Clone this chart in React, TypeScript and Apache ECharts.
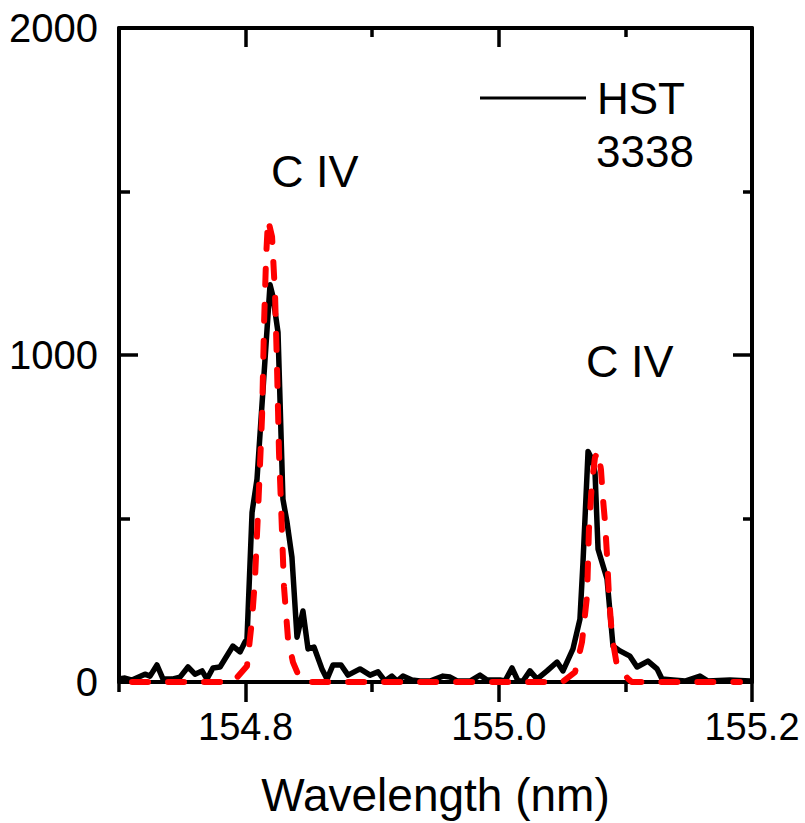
import React, { useEffect, useRef } from "react";
import * as echarts from "echarts";

// Measured spectrum (HST 3338)
const wavelength = [
  154.7, 154.7047, 154.7103, 154.7205, 154.7245, 154.73, 154.7348, 154.7419, 154.7482, 154.7545,
  154.76, 154.7656, 154.7695, 154.7742, 154.7798, 154.79, 154.7956, 154.7995, 154.8011, 154.8051,
  154.809, 154.8193, 154.8216, 154.8256, 154.8295, 154.8327, 154.8366, 154.8406, 154.8453, 154.8493,
  154.854, 154.8603, 154.8643, 154.869, 154.8754, 154.8809, 154.8904, 154.8983, 154.9046, 154.9101,
  154.9156, 154.9196, 154.9243, 154.9314, 154.9378, 154.9457, 154.9559, 154.9615, 154.967, 154.9773,
  154.9852, 154.9907, 155.0009, 155.0049, 155.0104, 155.0152, 155.0191, 155.0246, 155.0302, 155.0381,
  155.046, 155.0507, 155.0586, 155.0641, 155.0665, 155.0689, 155.0705, 155.0736, 155.076, 155.0784,
  155.0855, 155.0902, 155.0957, 155.1036, 155.1092, 155.1178, 155.125, 155.1289, 155.1376, 155.1471,
  155.1589, 155.1652, 155.1826, 155.1984,
];
const intensity = [
  9, 12, 6, 24, 18, 52, 9, 9, 15, 46,
  24, 34, 9, 43, 46, 110, 92, 122, 131, 519,
  620, 1215, 1179, 1069, 559, 489, 382, 137, 217, 101,
  107, 40, 9, 52, 52, 21, 40, 21, 31, 3,
  18, 3, 18, 6, 3, 3, 18, 15, 3, 3,
  21, 6, 6, 3, 43, 3, 3, 34, 9, 34,
  61, 34, 101, 192, 366, 568, 705, 681, 641, 406,
  315, 110, 95, 79, 46, 64, 40, 9, 6, 3,
  18, 3, 6, 3,
];

// Fitted profile (red dashed)
const fitWavelength = [
  154.7103, 154.79, 154.8011, 154.8051, 154.8074, 154.8098, 154.813, 154.8146, 154.8162, 154.8177,
  154.8209, 154.8233, 154.8248, 154.8264, 154.828, 154.8303, 154.8335, 154.8374, 154.843, 154.85,
  155.0502, 155.0602, 155.0657, 155.0697, 155.0712, 155.0736, 155.076, 155.0784, 155.0807, 155.0823,
  155.0839, 155.0855, 155.087, 155.0894, 155.0934, 155.1021, 155.105, 155.1905,
];
const fitIntensity = [
  0, 0, 49, 192, 315, 519, 812, 1100, 1300, 1414,
  1362, 1180, 965, 700, 540, 293, 131, 61, 9, 0,
  0, 30, 122, 263, 467, 611, 687, 705, 650, 560,
  489, 385, 263, 140, 49, 10, 0, 0,
];

const xLabelValues = [154.8, 155.0, 155.2];
const xMinorValues = [154.7, 154.9, 155.1];
const annotations = ["C IV", "C IV"];
const seriesName = "HST";
const legendSecondLine = "3338";

const FONT = "'Liberation Sans', Arial, sans-serif";

export default function App() {
  const ref = useRef<HTMLDivElement>(null);
  useEffect(() => {
    if (!ref.current) return;
    const chart = echarts.init(ref.current, null, { renderer: "svg" });
    const axisLine = { show: true, lineStyle: { color: "#000", width: 4 } };
    const baseX = { type: "value", min: 154.7, max: 155.2, interval: 0.1, splitLine: { show: false }, gridIndex: 0 };
    const baseY = { type: "value", min: 0, max: 2000, interval: 1000, splitLine: { show: false } };
    chart.setOption({
      animation: false,
      backgroundColor: "#fff",
      textStyle: { fontFamily: FONT },
      grid: { left: 119, top: 28, width: 633, height: 655, containLabel: false },
      legend: {
        show: true,
        data: [{ name: seriesName, icon: "rect" }],
        orient: "vertical",
        left: 475,
        top: 71,
        itemWidth: 106,
        itemHeight: 3,
        itemGap: 0,
        itemStyle: { color: "#000", borderWidth: 0 },
        textStyle: { fontSize: 44, color: "#000", fontFamily: FONT, padding: [0, 0, 0, 6] },
        selectedMode: false,
      },
      xAxis: [
        {
          ...baseX,
          position: "bottom",
          axisLine,
          axisTick: { show: true, inside: false, length: 20, customValues: xLabelValues, lineStyle: { color: "#000", width: 3.5 } },
          axisLabel: {
            show: true,
            customValues: xLabelValues,
            formatter: (v: number) => v.toFixed(1),
            fontSize: 38,
            color: "#000",
            margin: 26,
            fontFamily: FONT,
          },
          name: "Wavelength (nm)",
          nameLocation: "middle",
          nameGap: 90,
          nameTextStyle: { fontSize: 46, color: "#000", fontFamily: FONT },
        },
        {
          ...baseX,
          position: "bottom",
          axisLine: { show: false },
          axisTick: { show: true, inside: false, length: 10, customValues: xMinorValues, lineStyle: { color: "#000", width: 3.5 } },
          axisLabel: { show: false },
        },
        {
          ...baseX,
          position: "top",
          axisLine,
          axisTick: { show: true, inside: true, length: 19, customValues: xLabelValues, lineStyle: { color: "#000", width: 3.5 } },
          axisLabel: { show: false },
        },
        {
          ...baseX,
          position: "top",
          axisLine: { show: false },
          axisTick: { show: true, inside: true, length: 9, customValues: xMinorValues, lineStyle: { color: "#000", width: 3.5 } },
          axisLabel: { show: false },
        },
      ],
      yAxis: [
        {
          ...baseY,
          position: "left",
          axisLine,
          axisTick: { show: true, inside: true, length: 19, lineStyle: { color: "#000", width: 3.5 } },
          minorTick: { show: true, splitNumber: 2, length: 11, lineStyle: { color: "#000", width: 3.5 } },
          axisLabel: {
            show: true,
            fontSize: 40,
            color: "#000",
            margin: 21,
            fontFamily: FONT,
            formatter: (v: number) => String(v),
          },
        },
        {
          ...baseY,
          position: "right",
          axisLine,
          axisTick: { show: true, inside: true, length: 19, lineStyle: { color: "#000", width: 3.5 } },
          minorTick: { show: true, splitNumber: 2, length: 9, lineStyle: { color: "#000", width: 3.5 } },
          axisLabel: { show: false },
        },
      ],
      graphic: [
        {
          type: "text",
          x: 271,
          y: 171,
          style: { text: annotations[0], fontSize: 45, fill: "#000", fontFamily: FONT, verticalAlign: "middle", align: "left" },
        },
        {
          type: "text",
          x: 586,
          y: 361,
          style: { text: annotations[1], fontSize: 45, fill: "#000", fontFamily: FONT, verticalAlign: "middle", align: "left" },
        },
        {
          type: "text",
          x: 596,
          y: 151,
          style: { text: legendSecondLine, fontSize: 44, fill: "#000", fontFamily: FONT, verticalAlign: "middle", align: "left" },
        },
      ],
      series: [
        {
          name: seriesName,
          type: "line",
          xAxisIndex: 0,
          yAxisIndex: 0,
          symbol: "none",
          data: wavelength.map((w, i) => [w, intensity[i]]),
          lineStyle: { color: "#000", width: 5.5, join: "round" },
          itemStyle: { color: "#000" },
          z: 2,
        },
        {
          name: "Fit",
          type: "line",
          xAxisIndex: 0,
          yAxisIndex: 0,
          symbol: "none",
          data: fitWavelength.map((w, i) => [w, fitIntensity[i]]),
          lineStyle: { color: "#ff0000", width: 6, type: [16, 20], cap: "round", join: "round" },
          itemStyle: { color: "#ff0000" },
          z: 3,
        },
      ],
    });
    return () => chart.dispose();
  }, []);
  return <div ref={ref} style={{ position: "absolute", left: 0, top: 0, width: 805, height: 823 }} />;
}
